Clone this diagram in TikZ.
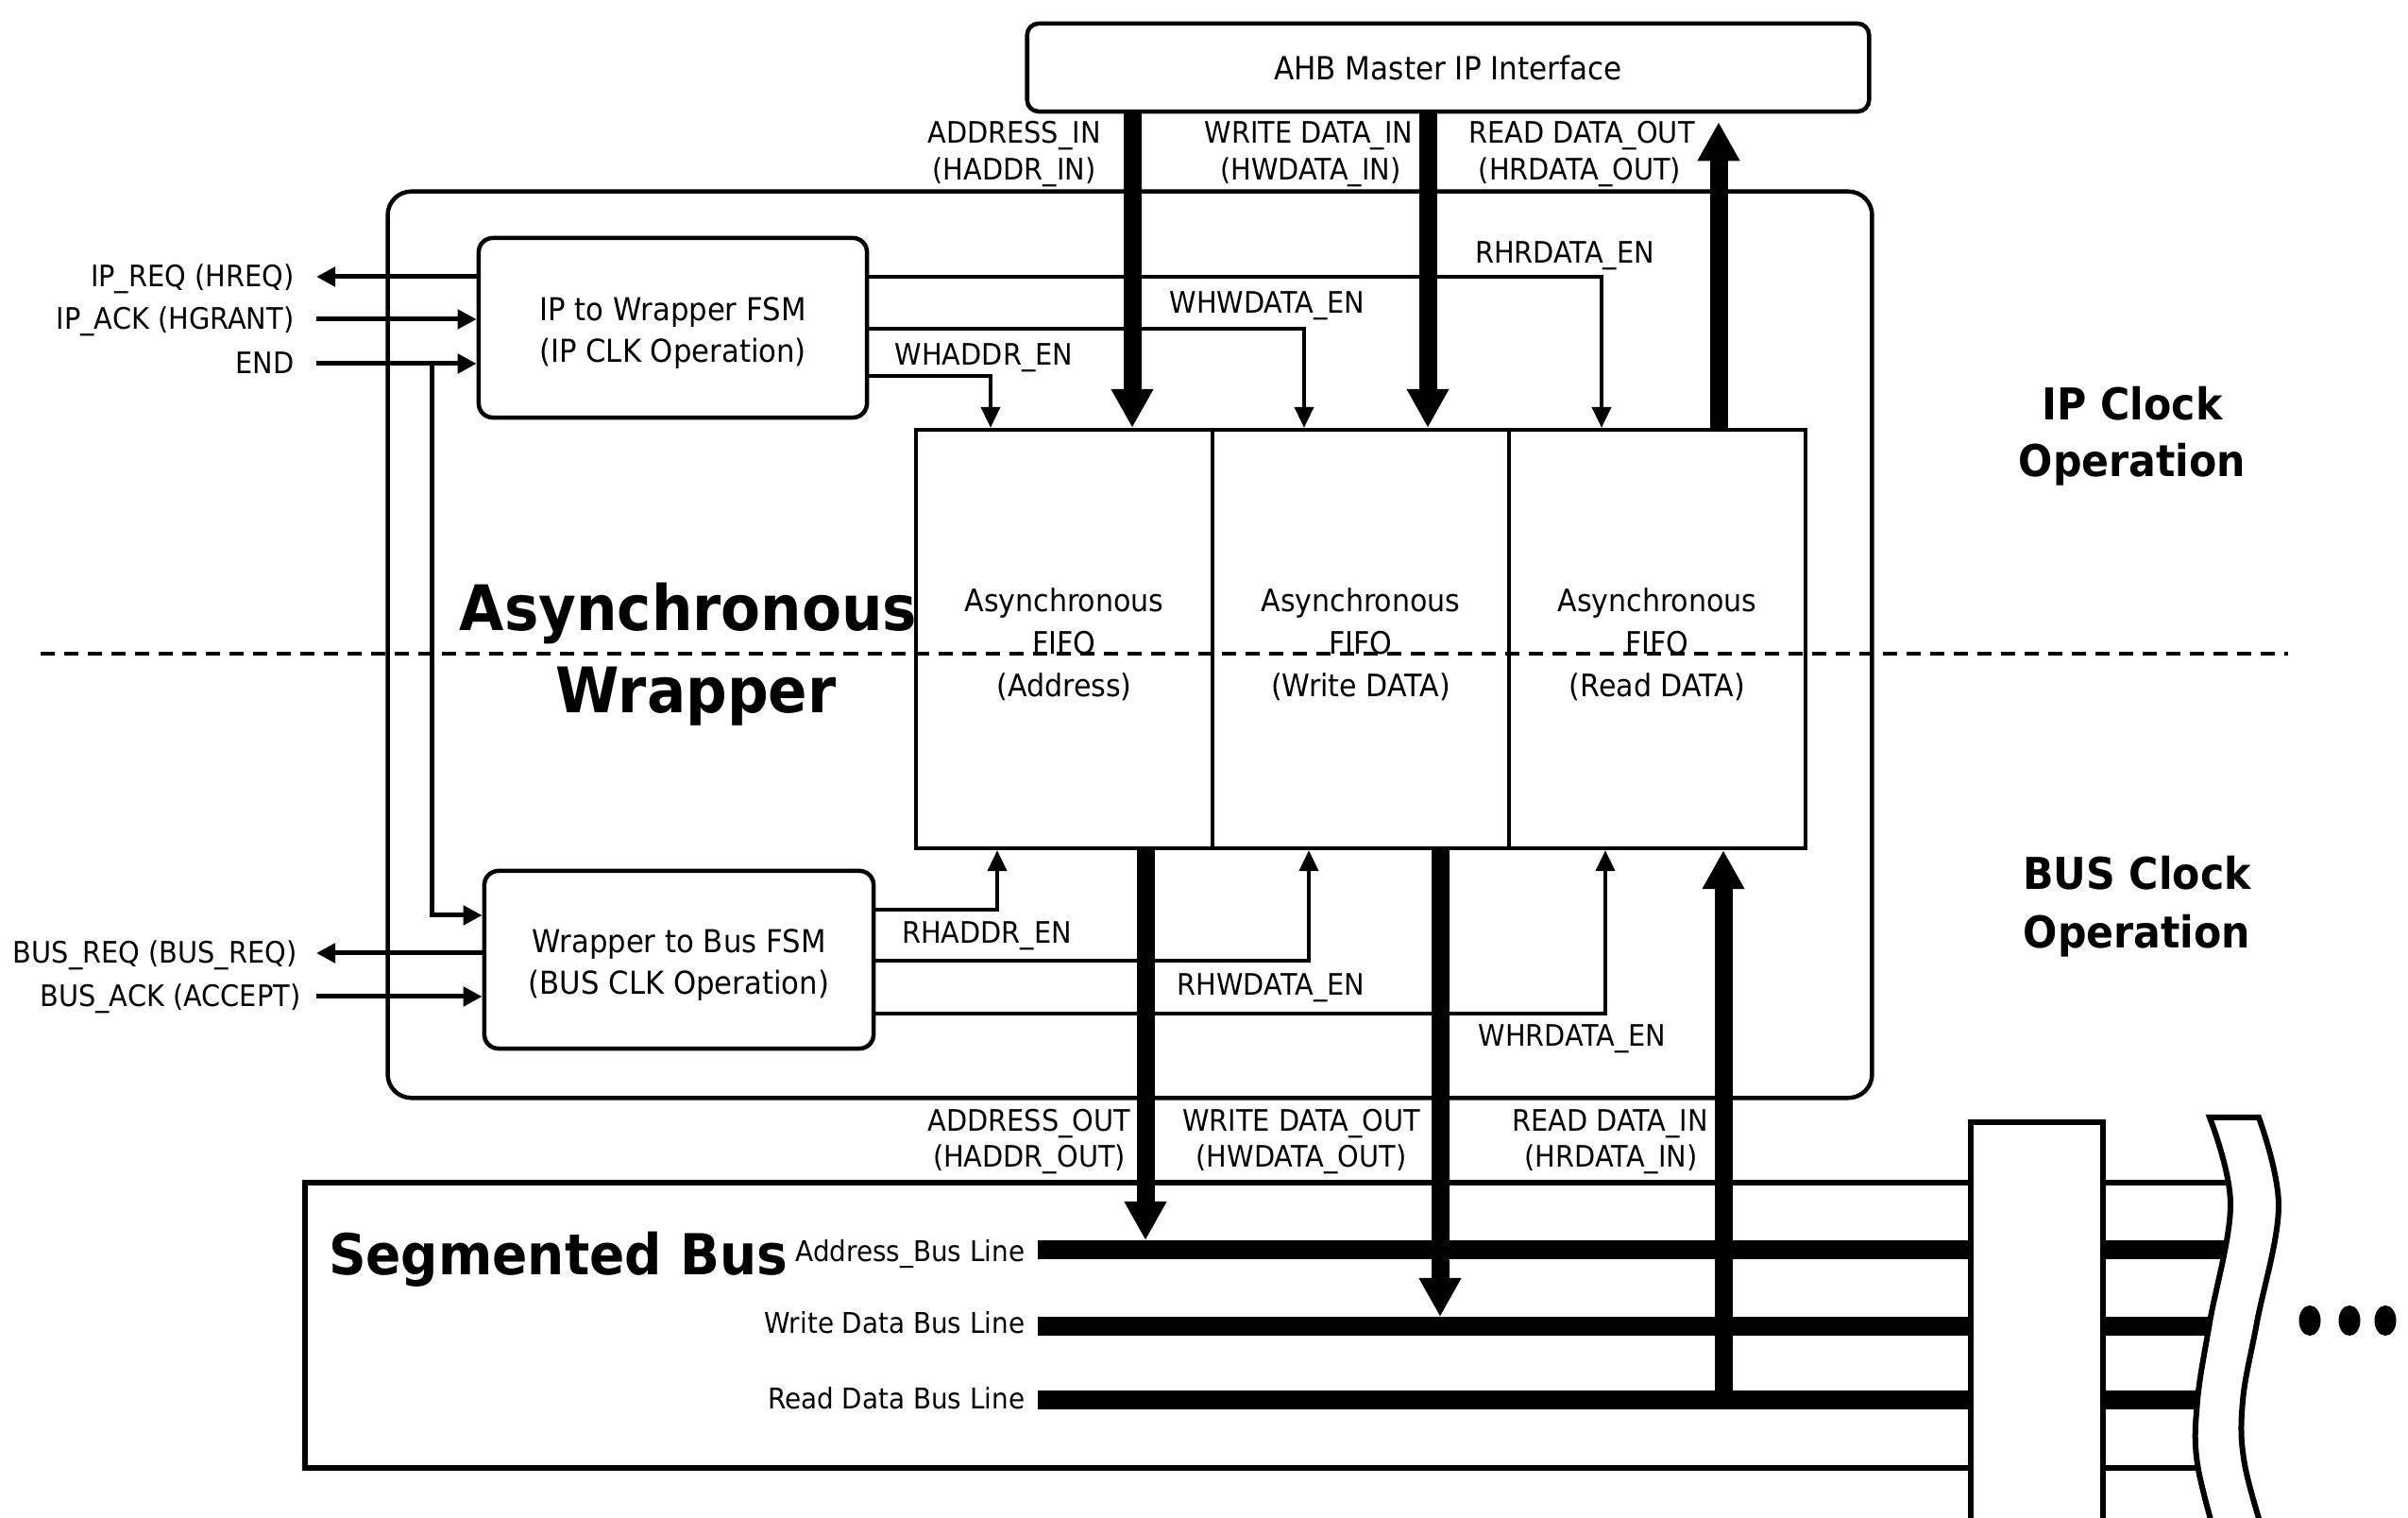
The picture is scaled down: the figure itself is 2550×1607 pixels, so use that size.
\documentclass[tikz,border=0pt]{standalone}
\usepackage{fontspec}
\setmainfont{DejaVu Sans}[FakeStretch=0.92]
\usetikzlibrary{arrows.meta}
\newcommand\lblfont{\fontsize{8.9}{10.7}\selectfont}
\newcommand\ahbfont{\fontsize{9.6}{11}\selectfont}
\newcommand\buslblfont{\fontsize{8.6}{10}\selectfont}
\newcommand\fsmfont{\fontsize{9.5}{12.6}\selectfont}
\newcommand\fifofont{\fontsize{9.3}{12.8}\selectfont}
\newcommand\bigfont{\fontsize{18.9}{22}\selectfont\bfseries}
\newcommand\segfont{\fontsize{17}{20}\selectfont\bfseries}
\newcommand\clkfont{\fontsize{13.2}{15}\selectfont\bfseries}
\begin{document}
\begin{tikzpicture}[x=0.01cm, y=-0.01cm,
  lbl/.style={font=\lblfont, inner sep=0pt, anchor=base},
  lble/.style={font=\lblfont, inner sep=0pt, anchor=base east},
  rbox/.style={draw, line width=0.045cm, inner sep=0pt},
  fifobox/.style={draw, line width=0.04cm, inner sep=0pt, minimum width=3.14cm, minimum height=4.43cm},
  sig/.style={line width=0.05cm, -{Triangle[length=0.2cm,width=0.2cm]}},
  en/.style={line width=0.04cm, -{Triangle[length=0.22cm,width=0.2cm]}},
  bus/.style={line width=0.19cm, -{Triangle[length=0.41cm,width=0.42cm]}},
  busline/.style={line width=0.20cm},
  segline/.style={line width=0.065cm}]
\useasboundingbox (0,0) rectangle (2550,1607);

% main boxes
\node[rbox, rounded corners=0.25cm, minimum width=15.71cm, minimum height=9.59cm] (wrap) at (1196.5,682.5) {};
\node[rbox, rounded corners=0.12cm, minimum width=8.91cm, minimum height=0.93cm, font=\ahbfont] (ahb) at (1533.5,71.5) {AHB Master IP Interface};
\node[rbox, rounded corners=0.15cm, minimum width=4.11cm, minimum height=1.90cm] (fsm1) at (712.5,347) {};
\node[rbox, rounded corners=0.15cm, minimum width=4.12cm, minimum height=1.88cm] (fsm2) at (719,1016) {};
\node[font=\fsmfont, align=center, inner sep=0pt] (fsm1t) at (712.5,352.5) {IP to Wrapper FSM\\(IP CLK Operation)};
\node[font=\fsmfont, align=center, inner sep=0pt] (fsm2t) at (719,1021.5) {Wrapper to Bus FSM\\(BUS CLK Operation)};
\node[fifobox] (fifoA) at (1127,676.5) {};
\node[fifobox] (fifoW) at (1441,676.5) {};
\node[fifobox] (fifoR) at (1755,676.5) {};
\node[font=\fifofont, align=center, inner sep=0pt] (fAt) at (1127,682) {Asynchronous\\FIFO\\(Address)};
\node[font=\fifofont, align=center, inner sep=0pt] (fWt) at (1441,682) {Asynchronous\\FIFO\\(Write DATA)};
\node[font=\fifofont, align=center, inner sep=0pt] (fRt) at (1755,682) {Asynchronous\\FIFO\\(Read DATA)};

% big labels
\node[font=\bigfont, inner sep=0pt, anchor=base] (aw1) at (729,668) {Asynchronous};
\node[font=\bigfont, inner sep=0pt, anchor=base] (aw2) at (737,755) {Wrapper};
\node[font=\clkfont, inner sep=0pt, anchor=base] (ipc1) at (2258,445) {IP Clock};
\node[font=\clkfont, inner sep=0pt, anchor=base] (ipc2) at (2258,505) {Operation};
\node[font=\clkfont, inner sep=0pt, anchor=base] (bc1) at (2263,942) {BUS Clock};
\node[font=\clkfont, inner sep=0pt, anchor=base] (bc2) at (2263,1004) {Operation};

% left signal labels
\node[lble] (lreq) at (312,304) {IP\_REQ (HREQ)};
\node[lble] (lack) at (312,349) {IP\_ACK (HGRANT)};
\node[lble] (lend) at (312,396) {END};
\node[lble] (lbreq) at (315,1020) {BUS\_REQ (BUS\_REQ)};
\node[lble] (lback) at (319,1066) {BUS\_ACK (ACCEPT)};

% bus port labels
\node[lbl] (lAi1) at (1074,152) {ADDRESS\_IN};
\node[lbl] (lAi2) at (1074,191) {(HADDR\_IN)};
\node[lbl] (lWi1) at (1386,152) {WRITE DATA\_IN};
\node[lbl] (lWi2) at (1388,191) {(HWDATA\_IN)};
\node[lbl] (lRo1) at (1675,152) {READ DATA\_OUT};
\node[lbl] (lRo2) at (1673,191) {(HRDATA\_OUT)};
\node[lbl] (lAo1) at (1090,1198) {ADDRESS\_OUT};
\node[lbl] (lAo2) at (1090,1236) {(HADDR\_OUT)};
\node[lbl] (lWo1) at (1378,1198) {WRITE DATA\_OUT};
\node[lbl] (lWo2) at (1378,1236) {(HWDATA\_OUT)};
\node[lbl] (lRi1) at (1705,1198) {READ DATA\_IN};
\node[lbl] (lRi2) at (1706,1236) {(HRDATA\_IN)};

% enable labels
\node[lbl] (lrhr) at (1657,279) {RHRDATA\_EN};
\node[lbl] (lwhw) at (1342,332) {WHWDATA\_EN};
\node[lbl] (lwha) at (1042,387) {WHADDR\_EN};
\node[lbl] (lrha) at (1045,999) {RHADDR\_EN};
\node[lbl] (lrhw) at (1346,1054) {RHWDATA\_EN};
\node[lbl] (lwhr) at (1665,1108) {WHRDATA\_EN};

% coordinates
\coordinate (reqL) at (335,293);
\coordinate (ackL) at (335,338);
\coordinate (endL) at (335,385);
\coordinate (endV) at (457,385);
\coordinate (brk) at (457,969);
\coordinate (breqL) at (335,1009);
\coordinate (backL) at (335,1055);
\coordinate (e1) at (1696,293);
\coordinate (e2) at (1381,348);
\coordinate (e3) at (1049,398);
\coordinate (e4) at (1056,963);
\coordinate (e5) at (1386,1017);
\coordinate (e6) at (1700,1073);
\coordinate (xAi) at (1199,0);
\coordinate (xWi) at (1512,0);
\coordinate (xRo) at (1820,0);
\coordinate (xAo) at (1213,0);
\coordinate (xWo) at (1525,0);
\coordinate (aoT) at (1213,1313);
\coordinate (woT) at (1525,1394);
\coordinate (riB) at (1825,1483);
\coordinate (abS) at (1099,1323);
\coordinate (abE) at (2370,1323);
\coordinate (wbS) at (1099,1404);
\coordinate (wbE) at (2370,1404);
\coordinate (rbS) at (1099,1482);
\coordinate (rbE) at (2370,1482);
\coordinate (dL) at (43,692);
\coordinate (dR) at (2423,692);

% left signals
\draw[sig] (fsm1.west |- reqL) -- (reqL);
\draw[sig] (ackL) -- (fsm1.west |- ackL);
\draw[sig] (endL) -- (fsm1.west |- endL);
\draw[sig] (endV) -- (brk) -- (fsm2.west |- brk);
\draw[sig] (fsm2.west |- breqL) -- (breqL);
\draw[sig] (backL) -- (fsm2.west |- backL);

% enable lines
\draw[en] (fsm1.east |- e1) -- (e1) -- (e1 |- fifoR.north);
\draw[en] (fsm1.east |- e2) -- (e2) -- (e2 |- fifoW.north);
\draw[en] (fsm1.east |- e3) -- (e3) -- (e3 |- fifoA.north);
\draw[en] (fsm2.east |- e4) -- (e4) -- (e4 |- fifoA.south);
\draw[en] (fsm2.east |- e5) -- (e5) -- (e5 |- fifoW.south);
\draw[en] (fsm2.east |- e6) -- (e6) -- (e6 |- fifoR.south);

% segmented bus
\draw[segline] (2370,1252) -- (323,1252) -- (323,1554) -- (2370,1554);
\draw[busline] (abS) -- (abE);
\draw[busline] (wbS) -- (wbE);
\draw[busline] (rbS) -- (rbE);
\node[font=\segfont, inner sep=0pt, anchor=base] (segt) at (591,1350) {Segmented Bus};
\node[font=\buslblfont, inner sep=0pt, anchor=base east] (lab) at (1086,1336) {Address\_Bus Line};
\node[font=\buslblfont, inner sep=0pt, anchor=base east] (lwb) at (1086,1412) {Write Data Bus Line};
\node[font=\buslblfont, inner sep=0pt, anchor=base east] (lrb) at (1086,1492) {Read Data Bus Line};

% thick data arrows
\draw[bus] (ahb.south -| xAi) -- (fifoA.north -| xAi);
\draw[bus] (ahb.south -| xWi) -- (fifoW.north -| xWi);
\draw[bus, shorten >=0.09cm] (fifoR.north -| xRo) -- (ahb.south -| xRo);
\draw[bus] (fifoA.south -| xAo) -- (aoT);
\draw[bus] (fifoW.south -| xWo) -- (woT);
\draw[bus] (riB) -- (fifoR.south -| riB);

% segment splitter and break
\node[draw, fill=white, line width=0.06cm, inner sep=0pt, minimum width=1.40cm, minimum height=4.6cm, anchor=north west] (split) at (2084,1185) {};
\path[draw, fill=white, line width=0.06cm]
  plot[smooth, tension=0.6] coordinates {(2340,1183) (2362,1275) (2340,1400) (2327,1483) (2327,1550) (2350,1640)}
  -- plot[smooth, tension=0.6] coordinates {(2402,1640) (2377,1550) (2375,1483) (2390,1400) (2413,1277) (2392,1183)}
  -- cycle;
\fill (2446,1398) ellipse [x radius=0.115cm, y radius=0.16cm];
\fill (2488,1398) ellipse [x radius=0.115cm, y radius=0.16cm];
\fill (2526,1398) ellipse [x radius=0.115cm, y radius=0.16cm];

% clock domain boundary
\draw[line width=0.045cm, dash pattern=on 0.15cm off 0.10cm] (dL) -- (dR);
\end{tikzpicture}
\end{document}
